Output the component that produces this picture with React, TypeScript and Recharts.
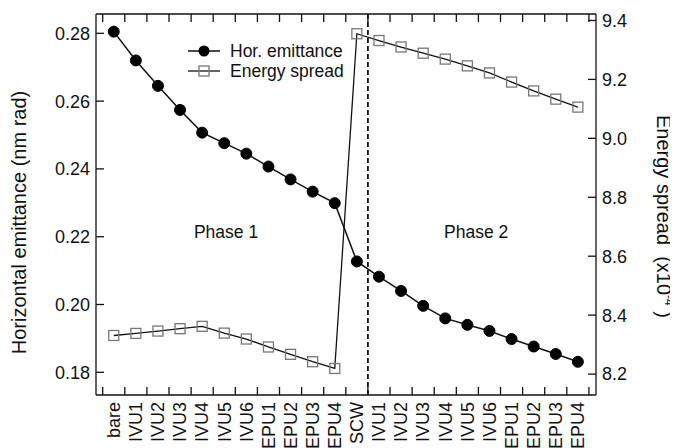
import { LineChart, Line, XAxis, YAxis, ReferenceLine, ReferenceDot, Legend } from "recharts";

const categories = [
  "bare", "IVU1", "IVU2", "IVU3", "IVU4", "IVU5", "IVU6", "EPU1", "EPU2", "EPU3", "EPU4",
  "SCW", "IVU1", "IVU2", "IVU3", "IVU4", "IVU5", "IVU6", "EPU1", "EPU2", "EPU3", "EPU4",
];
const emittance = [
  0.2805, 0.272, 0.2645, 0.2574, 0.2507, 0.2476, 0.2445, 0.2407, 0.2369, 0.2333, 0.2299,
  0.2127, 0.2082, 0.204, 0.1996, 0.1959, 0.194, 0.1922, 0.1898, 0.1876, 0.1854, 0.1831,
];
const energySpread = [
  8.331, 8.338, 8.346, 8.354, 8.362, 8.339, 8.319, 8.292, 8.267, 8.242, 8.219,
  9.355, 9.332, 9.31, 9.289, 9.269, 9.246, 9.222, 9.191, 9.161, 9.133, 9.106,
];
const leftTicks = [0.18, 0.2, 0.22, 0.24, 0.26, 0.28];
const rightTicks = [8.2, 8.4, 8.6, 8.8, 9.0, 9.2, 9.4];
const phaseBoundary = 12;
const phaseLabels = [
  { text: "Phase 1", x: 5.58, y: 0.2214 },
  { text: "Phase 2", x: 16.9, y: 0.2214 },
];

const data = categories.map((c, i) => ({
  pos: i + 0.5,
  label: c,
  emittance: emittance[i],
  spread: energySpread[i],
}));
const centerTicks = categories.map((_, i) => i + 0.5);
// frame tick marks sit on the boundaries between categories
const boundaryTicks = categories.map((_, i) => i).concat([categories.length]);
const xDomain = [-0.303, 22.32];
const leftDomain = [0.1733, 0.2857];
const rightDomain = [8.129, 9.422];

const CHART_W = 670;
const CHART_H = 440;
const LEFT_W = 88;
const RIGHT_W = 82;
const TOP = 6;
const BOTTOM_H = 53;
const TICK_PX = 8;
// tick length converted to data units of each axis
const tickX = (TICK_PX * (xDomain[1] - xDomain[0])) / (CHART_W - LEFT_W - RIGHT_W);
const tickY = (TICK_PX * (leftDomain[1] - leftDomain[0])) / (CHART_H - TOP - BOTTOM_H);

const FONT = "'Liberation Sans', Arial, Helvetica, sans-serif";
const INK = "#111";
const SQUARE = "#777";
const axisLine = { stroke: INK, strokeWidth: 1.3 };

function CategoryTick({ x, y, payload }: any) {
  const name = categories[Math.floor(payload.value)];
  if (!name) return null;
  return (
    <g transform={`translate(${x},${y})`}>
      <text transform="rotate(-90)" x={0} dy="0.35em" textAnchor="end" fontSize={18} fill={INK}>
        {name}
      </text>
    </g>
  );
}

function SquareDot({ cx, cy }: any) {
  if (cx == null || cy == null) return null;
  return <rect x={cx - 5} y={cy - 5} width={10} height={10} fill="none" stroke={SQUARE} strokeWidth={1.3} />;
}

function LegendBox() {
  return (
    <svg width={180} height={44} style={{ display: "block" }}>
      <line x1={8} x2={40} y1={10} y2={10} stroke={INK} strokeWidth={1.5} />
      <circle cx={24} cy={10} r={5.5} fill="#000" />
      <text x={50} y={10} dy="0.35em" fontSize={17.5} fill={INK}>Hor. emittance</text>
      <line x1={8} x2={40} y1={30} y2={30} stroke={INK} strokeWidth={1.3} />
      <rect x={19} y={25} width={10} height={10} fill="none" stroke={SQUARE} strokeWidth={1.3} />
      <text x={50} y={30} dy="0.35em" fontSize={17.5} fill={INK}>Energy spread</text>
    </svg>
  );
}

function LeftTitle({ viewBox }: any) {
  const cx = 11;
  const cy = viewBox.y + viewBox.height / 2 + 18;
  return (
    <text transform={`rotate(-90, ${cx}, ${cy})`} x={cx} y={cy} dy="0.35em" textAnchor="middle" fontSize={20} fill={INK}>
      Horizontal emittance (nm rad)
    </text>
  );
}

function RightTitle({ viewBox }: any) {
  const cx = viewBox.x + 68;
  const cy = viewBox.y + viewBox.height / 2 + 12;
  return (
    <text transform={`rotate(90, ${cx}, ${cy})`} x={cx} y={cy} dy="0.35em" textAnchor="middle" fontSize={20} fill={INK} style={{ whiteSpace: "pre" }}>
      {"Energy spread  (x10"}
      <tspan fontSize={12} dy="-0.7em">-4</tspan>
      <tspan dy="0.42em">{" )"}</tspan>
    </text>
  );
}

export default function App() {
  const frame = { stroke: INK, strokeWidth: 1.3, ifOverflow: "visible" as const };
  return (
    <div style={{ fontFamily: FONT }}>
      <LineChart width={CHART_W} height={CHART_H} data={data} margin={{ top: TOP, right: 0, bottom: 0, left: 0 }}>
        <XAxis
          xAxisId="cat"
          type="number"
          dataKey="pos"
          domain={xDomain}
          allowDataOverflow
          ticks={centerTicks}
          interval={0}
          tick={<CategoryTick />}
          tickLine={false}
          tickSize={0}
          tickMargin={7}
          height={BOTTOM_H}
          axisLine={axisLine}
        />
        <YAxis
          yAxisId="left"
          type="number"
          domain={leftDomain}
          allowDataOverflow
          ticks={leftTicks}
          interval={0}
          tickFormatter={(v: number) => v.toFixed(2)}
          width={LEFT_W}
          tickLine={false}
          tickSize={0}
          tickMargin={6}
          axisLine={axisLine}
          tick={{ fill: INK, fontSize: 18 }}
          label={<LeftTitle />}
        />
        <YAxis
          yAxisId="right"
          orientation="right"
          type="number"
          domain={rightDomain}
          allowDataOverflow
          ticks={rightTicks}
          interval={0}
          tickFormatter={(v: number) => v.toFixed(1)}
          width={RIGHT_W}
          tickLine={false}
          tickSize={0}
          tickMargin={6}
          axisLine={axisLine}
          tick={{ fill: INK, fontSize: 18 }}
          label={<RightTitle />}
        />
        <Legend
          layout="vertical"
          align="center"
          verticalAlign="middle"
          content={() => <LegendBox />}
          wrapperStyle={{ position: "absolute", left: 172, top: 33, width: 180 }}
        />

        {/* box top edge and inward tick marks */}
        <ReferenceLine xAxisId="cat" yAxisId="left" y={leftDomain[1]} {...frame} />
        {boundaryTicks.map((k) => (
          <ReferenceLine key={`b${k}`} xAxisId="cat" yAxisId="left" {...frame}
            segment={[{ x: k, y: leftDomain[0] }, { x: k, y: leftDomain[0] + tickY }]} />
        ))}
        {boundaryTicks.map((k) => (
          <ReferenceLine key={`t${k}`} xAxisId="cat" yAxisId="left" {...frame}
            segment={[{ x: k, y: leftDomain[1] }, { x: k, y: leftDomain[1] - tickY }]} />
        ))}
        {leftTicks.map((v) => (
          <ReferenceLine key={`l${v}`} xAxisId="cat" yAxisId="left" {...frame}
            segment={[{ x: xDomain[0], y: v }, { x: xDomain[0] + tickX, y: v }]} />
        ))}
        {rightTicks.map((v) => (
          <ReferenceLine key={`r${v}`} xAxisId="cat" yAxisId="right" {...frame}
            segment={[{ x: xDomain[1] - tickX, y: v }, { x: xDomain[1], y: v }]} />
        ))}

        <ReferenceLine xAxisId="cat" yAxisId="left" x={phaseBoundary} stroke={INK} strokeWidth={1.8} strokeDasharray="5 3" />
        {phaseLabels.map((p) => (
          <ReferenceDot
            key={p.text}
            xAxisId="cat"
            yAxisId="left"
            x={p.x}
            y={p.y}
            r={1}
            fill="none"
            stroke="none"
            label={{ value: p.text, position: "center", fontSize: 17.5, fill: INK }}
          />
        ))}
        <Line
          xAxisId="cat"
          yAxisId="right"
          dataKey="spread"
          stroke={INK}
          strokeWidth={1.3}
          dot={<SquareDot />}
          isAnimationActive={false}
        />
        <Line
          xAxisId="cat"
          yAxisId="left"
          dataKey="emittance"
          stroke={INK}
          strokeWidth={1.5}
          dot={{ r: 5.5, fill: "#000", stroke: "#000", strokeWidth: 1 }}
          isAnimationActive={false}
        />
      </LineChart>
    </div>
  );
}
